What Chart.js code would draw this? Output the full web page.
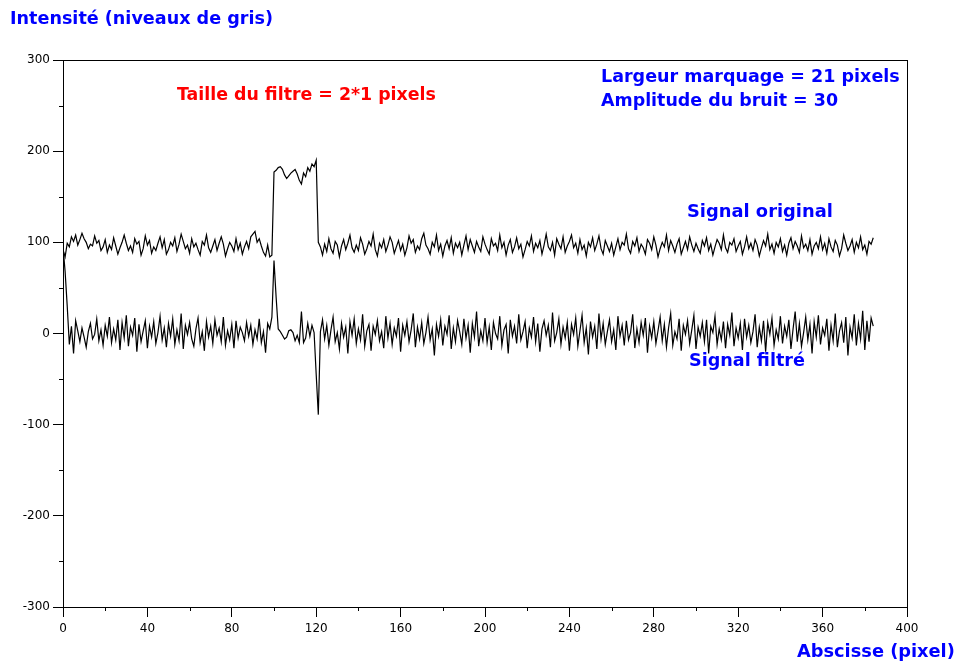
<!DOCTYPE html>
<html>
<head>
<meta charset="utf-8">
<script src="https://cdn.jsdelivr.net/npm/chart.js@4"></script>
<style>
  html, body { margin: 0; padding: 0; background: #fff; }
  canvas { display: block; }
</style>
</head>
<body>
<canvas id="graphe" width="962" height="666"></canvas>
<script>
// Signal original (niveaux de gris), abscisse 0..384
const signalOriginal = [
  92, 84, 99, 95, 106, 101, 108, 97, 103, 110, 104, 100, 93, 98, 96, 107, 99, 102, 91, 95,
  103, 89, 97, 92, 105, 96, 87, 94, 100, 108, 99, 91, 96, 89, 104, 98, 101, 86, 93, 107,
  97, 102, 88, 95, 91, 99, 106, 94, 103, 87, 92, 100, 96, 105, 90, 98, 109, 101, 93, 97,
  88, 104, 95, 99, 92, 86, 101, 97, 108, 94, 89, 96, 103, 91, 99, 106, 98, 85, 93, 100,
  96, 90, 104, 92, 99, 87, 95, 101, 93, 106, 109, 112, 100, 104, 96, 89, 85, 97, 84, 86,
  // marquage 100..120
  177, 179, 182, 183, 180, 174, 170, 173, 176, 178, 180, 175, 168, 164, 176, 172, 182, 178, 186, 183, 190,
  100, 95, 86, 98, 90, 104, 93, 88, 101, 97, 84, 96, 103, 92, 99, 108, 94, 89, 97, 91,
  105, 98, 87, 93, 101, 96, 109, 92, 85, 99, 94, 103, 90, 97, 106, 100, 88, 95, 102, 91,
  98, 86, 94, 107, 99, 103, 89, 96, 92, 104, 110, 97, 93, 87, 100, 95, 108, 91, 98, 85,
  96, 102, 93, 105, 88, 99, 94, 100, 86, 97, 107, 92, 103, 96, 89, 101, 95, 90, 106, 98,
  92, 87, 104, 96, 99, 91, 108, 94, 100, 86, 97, 103, 89, 95, 105, 93, 98, 84, 92, 101,
  96, 107, 90, 99, 94, 102, 87, 97, 109, 95, 91, 100, 86, 104, 98, 93, 106, 89, 96, 101,
  108, 94, 99, 88, 103, 92, 97, 85, 100, 95, 105, 91, 98, 107, 93, 87, 102, 96, 90, 99,
  86, 95, 104, 92, 100, 97, 109, 93, 88, 101, 96, 105, 90, 98, 94, 87, 103, 99, 92, 106,
  97, 84, 93, 100, 95, 108, 91, 102, 96, 89, 98, 104, 87, 94, 101, 92, 106, 97, 90, 99,
  93, 88, 102, 96, 105, 91, 98, 86, 95, 103, 99, 92, 108, 94, 89, 100, 97, 104, 90, 96,
  101, 87, 95, 106, 93, 99, 91, 103, 97, 85, 94, 102, 96, 109, 92, 98, 88, 100, 95, 104,
  90, 97, 86, 99, 105, 93, 101, 96, 89, 107, 94, 98, 91, 103, 87, 96, 100, 93, 106, 92,
  99, 88, 104, 95, 90, 102, 97, 85, 93, 108, 99, 91, 96, 103, 89, 100, 94, 106, 92, 97,
  87, 101, 98, 105
];

// Signal filtré, abscisse 0..384
const signalFiltre = [
  95, 68, 30, -12, 8, -22, 14, 3, -9, 6, -4, -15, 2, 11, -6, -1, 16, -8, 4, -13,
  9, -3, 18, -10, 5, -7, 15, -18, 12, -5, 20, -14, 7, -2, 17, -20, 10, -9, 3, 14,
  -16, 8, -4, 13, -11, 1, 19, -7, 6, -15, 11, -3, 16, -12, 4, -8, 22, -17, 9, -1,
  12, -6, -14, 5, 17, -10, 2, -19, 13, -4, 8, -11, 15, -2, 6, -9, 18, -13, 3, -7,
  10, -16, 14, -5, 7, 1, -8, 12, -3, 9, -12, 4, -6, 16, -10, 2, -21, 11, 5, 18,
  // front montant (100) et descendant (120-121)
  80, 40, 5, 2, -2, -6, -4, 3, 4, 1, -8, -2, -10, 24, -10, -5, 11, -3, 9, 1, -45, -89,
  2, 15, -6, 9, -13, 4, 18, -9, 1, -17, 11, -4, 7, -22, 13, -2, 16, -11, 5, -7,
  21, -14, 3, 10, -19, 8, -1, 14, -8, 2, -16, 19, -5, 11, -12, 6, -3, 17, -20, 9,
  -2, 13, -9, 4, 22, -15, 7, -6, 12, -11, 1, 18, -7, 5, -24, 10, -3, 15, -13, 8,
  -1, 20, -17, 6, -9, 14, 2, -12, 16, -5, 9, -21, 11, -4, 24, -14, 3, -8, 17, -10,
  7, -18, 12, 0, -6, 19, -13, 4, 10, -22, 15, -3, 8, -11, 21, -7, 2, 13, -16, 6,
  -4, 18, -9, 11, -20, 5, 14, -2, 9, -15, 23, -8, 1, 16, -12, 7, -5, 12, -19, 10,
  -1, 17, -14, 3, 20, -10, 6, -23, 13, -4, 8, -17, 22, -6, 11, -12, 2, 15, -9, 4,
  -18, 19, -3, 9, -13, 14, -7, 1, 21, -16, 5, -10, 12, -2, 17, -21, 8, -5, 13, -11,
  3, 18, -8, 10, -15, 6, 22, -13, 2, -6, 16, -19, 9, -1, 14, -11, 4, 20, -17, 7,
  -3, 12, -9, 15, -22, 8, 1, 19, -12, 5, -7, 13, -16, 10, -2, 23, -14, 6, -5, 11,
  -18, 16, -4, 9, -10, 2, 21, -15, 7, -8, 14, -20, 12, -1, 17, -13, 4, -6, 19, -11,
  8, -3, 15, -17, 5, 24, -9, 11, -14, 1, 18, -7, 10, -22, 13, -4, 20, -12, 6, -2,
  16, -19, 9, -8, 22, -15, 3, 12, -10, 18, -24, 7, -5, 21, -13, 11, -6, 25, -18, 14,
  -9, 17, 8
];

const xTicks = [0, 40, 80, 120, 160, 200, 240, 280, 320, 360, 400];
const yTicks = [-300, -200, -100, 0, 100, 200, 300];

// textes : [texte, x gauche (px), y centre (px), largeur voulue (px), couleur]
const textes = [
  ['Intensité (niveaux de gris)', 10, 19, 263, '#0000ff'],
  ['Abscisse (pixel)', 797, 652, 158, '#0000ff'],
  ['Taille du filtre = 2*1 pixels', 177, 95, 259, '#ff0000'],
  ['Largeur marquage = 21 pixels', 601, 77, 299, '#0000ff'],
  ['Amplitude du bruit = 30', 601, 101, 237, '#0000ff'],
  ['Signal original', 687, 212, 146, '#0000ff'],
  ['Signal filtré', 689, 361, 116, '#0000ff']
];

function enPoints(valeurs) {
  return valeurs.map((v, i) => ({ x: i, y: v }));
}

// cadre, petites graduations et textes
const decor = {
  id: 'decor',
  afterDraw(chart) {
    const ctx = chart.ctx;
    const a = chart.chartArea;
    const sx = chart.scales.x, sy = chart.scales.y;
    ctx.save();
    ctx.strokeStyle = '#000';
    ctx.lineWidth = 1;
    ctx.strokeRect(Math.round(a.left) + 0.5, Math.round(a.top) + 0.5,
      Math.round(a.right - a.left), Math.round(a.bottom - a.top));
    ctx.beginPath();
    for (let v = 20; v < 400; v += 40) {
      const px = Math.round(sx.getPixelForValue(v)) + 0.5;
      ctx.moveTo(px, a.bottom);
      ctx.lineTo(px, a.bottom + 4);
    }
    for (let v = -250; v < 300; v += 100) {
      const py = Math.round(sy.getPixelForValue(v)) + 0.5;
      ctx.moveTo(a.left, py);
      ctx.lineTo(a.left - 4, py);
    }
    ctx.stroke();

    ctx.textBaseline = 'middle';
    ctx.textAlign = 'left';
    textes.forEach(([t, x, y, w, c]) => {
      ctx.font = 'bold 100px "DejaVu Sans"';
      const taille = 100 * w / ctx.measureText(t).width;
      ctx.font = 'bold ' + taille.toFixed(2) + 'px "DejaVu Sans"';
      ctx.fillStyle = c;
      ctx.fillText(t, x, y);
    });
    ctx.restore();
  }
};

new Chart(document.getElementById('graphe'), {
  type: 'line',
  data: {
    datasets: [
      { label: 'Signal original', data: enPoints(signalOriginal) },
      { label: 'Signal filtré', data: enPoints(signalFiltre) }
    ]
  },
  options: {
    responsive: false,
    devicePixelRatio: 1,
    animation: false,
    layout: { padding: { left: 0, top: 60, right: 55, bottom: 0 } },
    elements: {
      line: { borderColor: '#000', borderWidth: 1.2, tension: 0 },
      point: { radius: 0 }
    },
    plugins: {
      legend: { display: false },
      tooltip: { enabled: false }
    },
    scales: {
      x: {
        type: 'linear',
        min: 0,
        max: 400,
        afterFit: (s) => { s.height = 59; },
        afterBuildTicks: (s) => { s.ticks = xTicks.map(v => ({ value: v })); },
        grid: { drawOnChartArea: false, tickLength: 10, color: '#000', tickColor: '#000' },
        border: { display: true, color: '#000' },
        ticks: { color: '#000', padding: 5, maxRotation: 0, font: { family: 'DejaVu Sans', size: 12 } }
      },
      y: {
        type: 'linear',
        min: -300,
        max: 300,
        afterFit: (s) => { s.width = 63; },
        afterBuildTicks: (s) => { s.ticks = yTicks.map(v => ({ value: v })); },
        grid: { drawOnChartArea: false, tickLength: 10, color: '#000', tickColor: '#000' },
        border: { display: true, color: '#000' },
        ticks: { color: '#000', padding: 3, font: { family: 'DejaVu Sans', size: 12 } }
      }
    }
  },
  plugins: [decor]
});
</script>
</body>
</html>
